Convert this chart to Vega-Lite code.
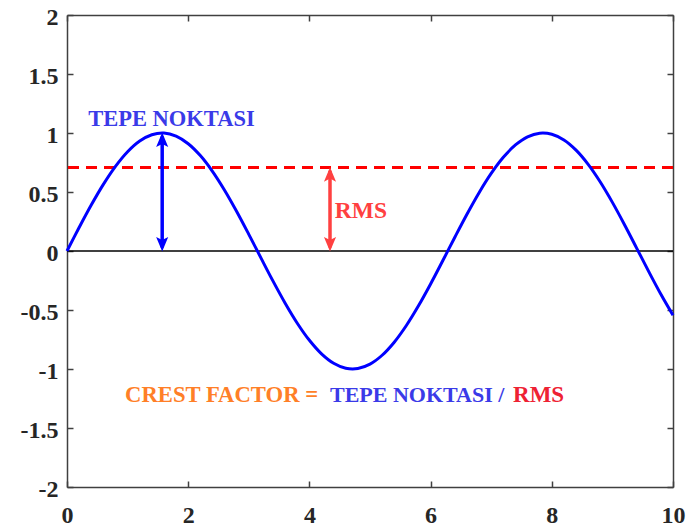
{
  "$schema": "https://vega.github.io/schema/vega-lite/v6.json",
  "width": 606,
  "height": 472,
  "autosize": "none",
  "padding": {"left": 67, "top": 15, "right": 15, "bottom": 45},
  "background": "white",
  "config": {
    "view": {"stroke": null},
    "axis": {
      "grid": false,
      "title": null,
      "domainColor": "#404040",
      "domainWidth": 1.5,
      "tickColor": "#404040",
      "tickWidth": 1.5,
      "tickSize": -6,
      "labelFlush": false,
      "labelFont": "Liberation Serif",
      "labelFontWeight": "bold",
      "labelFontSize": 24,
      "labelColor": "#262626"
    }
  },
  "datasets": {
    "wave": [
      {"x": 0, "y": 0}, {"x": 0.2, "y": 0.1987}, {"x": 0.4, "y": 0.3894}, {"x": 0.6, "y": 0.5646}, {"x": 0.8, "y": 0.7174},
      {"x": 1.0, "y": 0.8415}, {"x": 1.2, "y": 0.932}, {"x": 1.4, "y": 0.9854}, {"x": 1.6, "y": 0.9996}, {"x": 1.8, "y": 0.9738},
      {"x": 2.0, "y": 0.9093}, {"x": 2.2, "y": 0.8085}, {"x": 2.4, "y": 0.6755}, {"x": 2.6, "y": 0.5155}, {"x": 2.8, "y": 0.335},
      {"x": 3.0, "y": 0.1411}, {"x": 3.2, "y": -0.0584}, {"x": 3.4, "y": -0.2555}, {"x": 3.6, "y": -0.4425}, {"x": 3.8, "y": -0.6119},
      {"x": 4.0, "y": -0.7568}, {"x": 4.2, "y": -0.8716}, {"x": 4.4, "y": -0.9516}, {"x": 4.6, "y": -0.9937}, {"x": 4.8, "y": -0.9962},
      {"x": 5.0, "y": -0.9589}, {"x": 5.2, "y": -0.8835}, {"x": 5.4, "y": -0.7728}, {"x": 5.6, "y": -0.6313}, {"x": 5.8, "y": -0.4646},
      {"x": 6.0, "y": -0.2794}, {"x": 6.2, "y": -0.0831}, {"x": 6.4, "y": 0.1165}, {"x": 6.6, "y": 0.3115}, {"x": 6.8, "y": 0.4941},
      {"x": 7.0, "y": 0.657}, {"x": 7.2, "y": 0.7937}, {"x": 7.4, "y": 0.8987}, {"x": 7.6, "y": 0.9679}, {"x": 7.8, "y": 0.9985},
      {"x": 8.0, "y": 0.9894}, {"x": 8.2, "y": 0.9407}, {"x": 8.4, "y": 0.8546}, {"x": 8.6, "y": 0.7344}, {"x": 8.8, "y": 0.5849},
      {"x": 9.0, "y": 0.4121}, {"x": 9.2, "y": 0.2229}, {"x": 9.4, "y": 0.0248}, {"x": 9.6, "y": -0.1743}, {"x": 9.8, "y": -0.3665},
      {"x": 10.0, "y": -0.544}
    ]
  },
  "resolve": {"axis": {"x": "independent", "y": "independent"}},
  "layer": [
    {
      "data": {"values": [{"x": 0, "y": 0}, {"x": 10, "y": 0}]},
      "mark": {"type": "line", "color": "black", "strokeWidth": 1.5},
      "encoding": {
        "x": {"field": "x", "type": "quantitative", "scale": {"domain": [0, 10], "nice": false},
              "axis": {"orient": "top", "values": [0, 2, 4, 6, 8, 10], "labels": false}},
        "y": {"field": "y", "type": "quantitative", "scale": {"domain": [-2, 2], "nice": false},
              "axis": {"orient": "right", "values": [-2, -1.5, -1, -0.5, 0, 0.5, 1, 1.5, 2], "labels": false}}
      }
    },
    {
      "data": {"values": [{"y": 0.7071}]},
      "mark": {"type": "rule", "color": "#FF0000", "strokeWidth": 3, "strokeDash": [11, 7]},
      "encoding": {"y": {"field": "y", "type": "quantitative", "axis": null}}
    },
    {
      "data": {"name": "wave"},
      "mark": {"type": "line", "color": "#0000FF", "strokeWidth": 3, "interpolate": "catmull-rom"},
      "encoding": {
        "x": {"field": "x", "type": "quantitative",
              "axis": {"orient": "bottom", "values": [0, 2, 4, 6, 8, 10], "labelPadding": 22, "labelExpr": "toString(datum.value)"}},
        "y": {"field": "y", "type": "quantitative",
              "axis": {"orient": "left", "values": [-2, -1.5, -1, -0.5, 0, 0.5, 1, 1.5, 2], "labelPadding": 15, "labelOffset": 2, "labelExpr": "toString(datum.value)"}}
      }
    },
    {
      "data": {"values": [{"x": 1.5708, "y": 0.03, "y2": 0.97}]},
      "mark": {"type": "rule", "color": "#0000FF", "strokeWidth": 3.5},
      "encoding": {
        "x": {"field": "x", "type": "quantitative", "axis": null},
        "y": {"field": "y", "type": "quantitative", "axis": null},
        "y2": {"field": "y2"}
      }
    },
    {
      "data": {"values": [{"x": 4.34, "y": 0.03, "y2": 0.68}]},
      "mark": {"type": "rule", "color": "#FF4040", "strokeWidth": 3.5},
      "encoding": {
        "x": {"field": "x", "type": "quantitative", "axis": null},
        "y": {"field": "y", "type": "quantitative", "axis": null},
        "y2": {"field": "y2"}
      }
    },
    {
      "data": {"values": [{"x": 1.5708, "y": 0.935, "dir": "up"}, {"x": 1.5708, "y": 0.065, "dir": "down"}]},
      "mark": {"type": "point", "filled": true, "color": "#0000FF", "size": 260, "opacity": 1},
      "encoding": {
        "x": {"field": "x", "type": "quantitative", "axis": null},
        "y": {"field": "y", "type": "quantitative", "axis": null},
        "shape": {"field": "dir", "type": "nominal", "legend": null,
                  "scale": {"domain": ["up", "down"], "range": ["M0,-1L0.75,0.8L0,0.4L-0.75,0.8Z", "M0,1L0.75,-0.8L0,-0.4L-0.75,-0.8Z"]}}
      }
    },
    {
      "data": {"values": [{"x": 4.34, "y": 0.642, "dir": "up"}, {"x": 4.34, "y": 0.065, "dir": "down"}]},
      "mark": {"type": "point", "filled": true, "color": "#FF4040", "size": 260, "opacity": 1},
      "encoding": {
        "x": {"field": "x", "type": "quantitative", "axis": null},
        "y": {"field": "y", "type": "quantitative", "axis": null},
        "shape": {"field": "dir", "type": "nominal", "legend": null}
      }
    },
    {
      "data": {"values": [{"x": 1.724, "y": 1.12, "t": "TEPE NOKTASI"}]},
      "mark": {"type": "text", "font": "Liberation Serif", "fontWeight": "bold", "fontSize": 22.5, "color": "#3A3AE8", "align": "center", "baseline": "middle"},
      "encoding": {
        "x": {"field": "x", "type": "quantitative", "axis": null},
        "y": {"field": "y", "type": "quantitative", "axis": null},
        "text": {"field": "t"}
      }
    },
    {
      "data": {"values": [{"x": 4.42, "y": 0.34, "t": "RMS"}]},
      "mark": {"type": "text", "font": "Liberation Serif", "fontWeight": "bold", "fontSize": 23.5, "color": "#FF4040", "align": "left", "baseline": "middle"},
      "encoding": {
        "x": {"field": "x", "type": "quantitative", "axis": null},
        "y": {"field": "y", "type": "quantitative", "axis": null},
        "text": {"field": "t"}
      }
    },
    {
      "data": {"values": [{"x": 0.957, "y": -1.22, "t": "CREST FACTOR ="}]},
      "mark": {"type": "text", "font": "Liberation Serif", "fontWeight": "bold", "fontSize": 22.7, "color": "#FF7F27", "align": "left", "baseline": "middle"},
      "encoding": {
        "x": {"field": "x", "type": "quantitative", "axis": null},
        "y": {"field": "y", "type": "quantitative", "axis": null},
        "text": {"field": "t"}
      }
    },
    {
      "data": {"values": [{"x": 4.34, "y": -1.22, "t": "TEPE NOKTASI /"}]},
      "mark": {"type": "text", "font": "Liberation Serif", "fontWeight": "bold", "fontSize": 22, "color": "#3A3AE8", "align": "left", "baseline": "middle"},
      "encoding": {
        "x": {"field": "x", "type": "quantitative", "axis": null},
        "y": {"field": "y", "type": "quantitative", "axis": null},
        "text": {"field": "t"}
      }
    },
    {
      "data": {"values": [{"x": 7.36, "y": -1.22, "t": "RMS"}]},
      "mark": {"type": "text", "font": "Liberation Serif", "fontWeight": "bold", "fontSize": 23, "color": "#EE2233", "align": "left", "baseline": "middle"},
      "encoding": {
        "x": {"field": "x", "type": "quantitative", "axis": null},
        "y": {"field": "y", "type": "quantitative", "axis": null},
        "text": {"field": "t"}
      }
    }
  ]
}
